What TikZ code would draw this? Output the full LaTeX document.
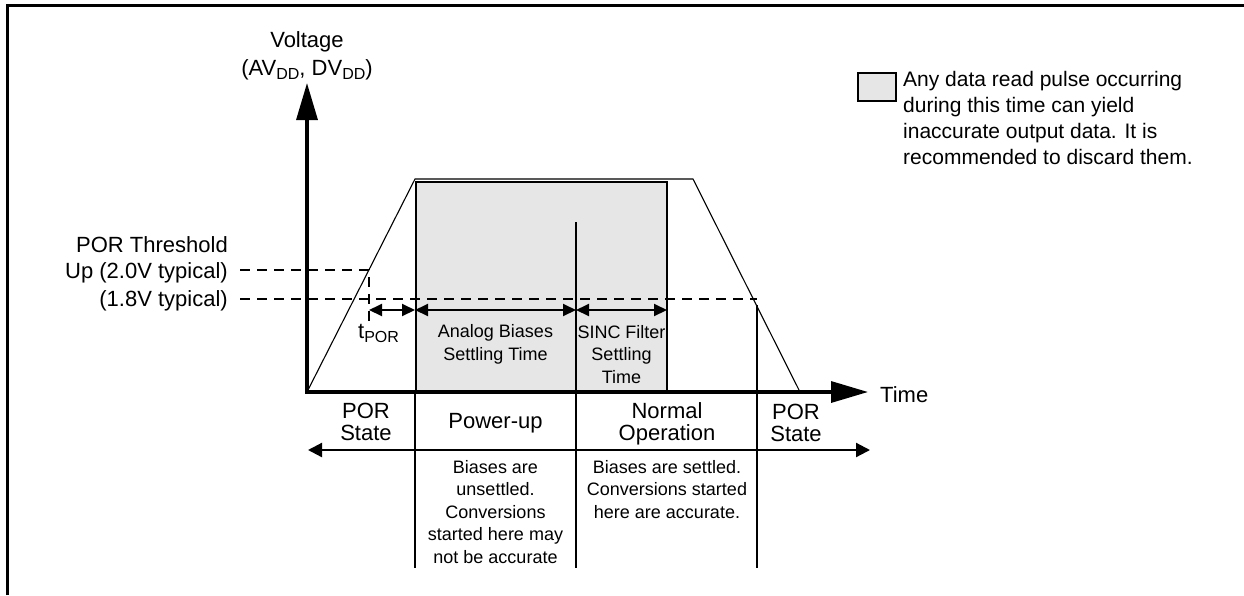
\documentclass[tikz,border=0pt]{standalone}
\usepackage{fontspec}
\setmainfont{Liberation Sans}
\usetikzlibrary{arrows.meta}
\definecolor{shade}{HTML}{E6E6E6}
\newcommand\sbs[1]{\raisebox{-4.5pt}{\fontsize{16}{16}\selectfont #1}}
\begin{document}
\begin{tikzpicture}[x=1pt,y=-1pt,
  big/.style={font=\fontsize{22}{22}\selectfont, inner sep=0pt, align=center},
  small/.style={font=\fontsize{18}{22.5}\selectfont, inner sep=0pt, align=center},
  legendtxt/.style={font=\fontsize{21}{25.7}\selectfont, inner sep=0pt, align=left},
  frame/.style={line width=3pt},
  axis/.style={line width=3.3pt, line join=miter, arrows={Triangle[length=37pt,width=21pt]-Triangle[length=37pt,width=21pt]}},
  ramp/.style={line width=1.1pt, line join=miter},
  divider/.style={line width=2pt},
  thresh/.style={line width=2pt, dash pattern=on 10pt off 7pt},
  dimarrow/.style={line width=2pt, arrows={Triangle[length=13pt,width=12pt]-Triangle[length=13pt,width=12pt]}},
  phasearrow/.style={line width=2.2pt, arrows={Triangle[length=14pt,width=14pt]-Triangle[length=14pt,width=14pt]}},
  shadebox/.style={fill=shade, draw=black, line width=2pt}
]
\useasboundingbox (0,0) rectangle (1244,595);
% frame
\coordinate (fbl) at (7,595);
\coordinate (ftl) at (7,5);
\coordinate (ftr) at (1244,5);
\draw[frame] (fbl) -- (ftl) -- (ftr);

% key coordinates
\coordinate (O) at (307,392);
\coordinate (ytop) at (307,83);
\coordinate (xend) at (868,392);
\coordinate (r1) at (415,179);
\coordinate (r2) at (693,179);
\coordinate (r3) at (800,392);

% shaded region
\filldraw[shadebox] (416,182) rectangle (667,392);

% ramp
\draw[ramp] (O) -- (r1) -- (r2) -- (r3);

% dividers
\coordinate (d1t) at (415,392);
\coordinate (d1b) at (415,568);
\coordinate (d2t) at (576,222);
\coordinate (d2b) at (576,568);
\coordinate (d3t) at (757,305);
\coordinate (d3b) at (757,568);
\draw[divider] (d1t) -- (d1b);
\draw[divider] (d2t) -- (d2b);
\draw[divider] (d3t) -- (d3b);

% thresholds
\coordinate (t2a) at (240,270);
\coordinate (t2b) at (369,270);
\coordinate (t1a) at (240,299);
\coordinate (t1b) at (757,299);
\coordinate (tv) at (369,324);
\draw[thresh] (t2a) -- (t2b) -- (tv);
\draw[thresh] (t1a) -- (t1b);

% dimension arrows
\coordinate (a0) at (369,310);
\coordinate (a1) at (415,310);
\coordinate (a2) at (576,310);
\coordinate (a3) at (667,310);
\draw[dimarrow] (a0) -- (a1);
\draw[dimarrow] (a1) -- (a2);
\draw[dimarrow] (a2) -- (a3);

% axes
\draw[axis] (ytop) -- (O) -- (xend);

% phase arrow
\coordinate (p0) at (308,450);
\coordinate (p1) at (870,450);
\draw[phasearrow] (p0) -- (p1);

% axis labels
\node[big, anchor=base] (vlab) at (307,47) {Voltage};
\node[big, anchor=base] (vlab2) at (307,75) {(AV\sbs{DD}, DV\sbs{DD})};
\node[big, anchor=base west] (tlab) at (880,402) {Time};

% threshold labels
\node[big, anchor=base east] (th1) at (228,252) {POR Threshold};
\node[big, anchor=base east] (th2) at (228,278) {Up (2.0V typical)};
\node[big, anchor=base east] (th3) at (228,306) {(1.8V typical)};
\node[big, anchor=base west] (tpor) at (358,338) {t\sbs{POR}};

% inner labels (anchor = baseline of last line)
\node[small, anchor=base] (ab) at (495.5,360) {Analog Biases\\Settling Time};
\node[small, anchor=base] (sf) at (621.5,383) {SINC Filter\\Settling\\Time};

% phase labels
\node[big, anchor=base] (por1) at (366,440) {POR\\State};
\node[big, anchor=base] (pu) at (495.5,428) {Power-up};
\node[big, anchor=base] (no) at (667,440) {Normal\\Operation};
\node[big, anchor=base] (por2) at (796,441) {POR\\State};

% notes
\node[small, anchor=base] (n1) at (495.5,563) {Biases are\\unsettled.\\Conversions\\started here may\\not be accurate};
\node[small, anchor=base] (n2) at (667,518) {Biases are settled.\\Conversions started\\here are accurate.};

% legend
\node[shadebox, minimum width=38pt, minimum height=28pt, inner sep=0pt, anchor=north west] (leg) at (857,72) {};
\node[legendtxt, anchor=base west] (legt) at (903,164) {Any data read pulse occurring\\during this time can yield\\inaccurate output data. It is\\recommended to discard them.};
\end{tikzpicture}
\end{document}
